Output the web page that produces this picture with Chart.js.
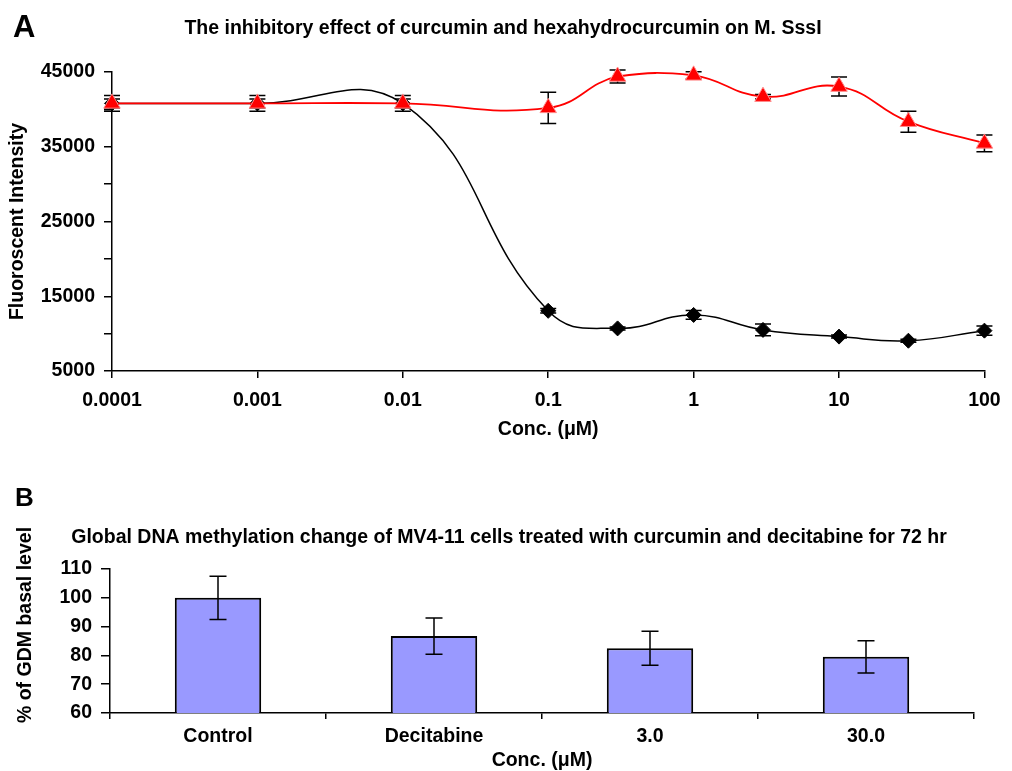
<!DOCTYPE html>
<html>
<head>
<meta charset="utf-8">
<script src="https://cdn.jsdelivr.net/npm/chart.js@4.4.1/dist/chart.umd.min.js"></script>
<style>
  html, body { margin:0; padding:0; background:#fff; overflow:hidden; width:1012px; height:771px; }
  #chartA { position:absolute; left:0; top:0; }
  #chartB { position:absolute; left:0; top:445px; }
  .lbl { position:absolute; font-family:'Liberation Sans', Arial, sans-serif; font-weight:bold; color:#000; line-height:1; white-space:nowrap; }
  #ytB { font-size:19.5px; line-height:1.2; left:25px; top:625px; transform:translate(-50%,-50%) rotate(-90deg); }
</style>
</head>
<body>
<canvas id="chartA" width="1012" height="445"></canvas>
<canvas id="chartB" width="1012" height="332"></canvas>
<div class="lbl" style="left:13px;top:11px;font-size:31px">A</div>
<div class="lbl" style="left:15px;top:484px;font-size:26px">B</div>
<div class="lbl" id="ytB">% of GDM basal level</div>
<script>
// ---------- Panel A data ----------
const concentrations = [0.0001, 0.001, 0.01, 0.1, 0.3, 1, 3, 10, 30, 100];
const hexahydroValues = [40800, 40800, 40800, 40200, 44400, 44550, 41700, 43050, 38350, 35450];
const hexahydroErrors = [1040, 1040, 1040, 2100, 870, 500, 300, 1270, 1400, 1130];
const curcuminValues = [40800, 40800, 40800, 13050, 10700, 12500, 10500, 9600, 9050, 10400];
const curcuminErrors = [600, 600, 600, 300, 200, 580, 800, 200, 200, 630];
const xTickValues = [0.0001, 0.001, 0.01, 0.1, 1, 10, 100];
const xTickLabels = ['0.0001', '0.001', '0.01', '0.1', '1', '10', '100'];
const yLabelledTicksA = [5000, 15000, 25000, 35000, 45000];

// ---------- Panel B data ----------
const gdmCategories = ['Control', 'Decitabine', '3.0', '30.0'];
const gdmValues = [100, 86.7, 82.5, 79.5];
const gdmErrors = [7.5, 6.3, 5.9, 5.6];

const FONT = "'Liberation Sans', Arial, sans-serif";
const fMain = { family: FONT, size: 19.5, weight: 'bold', lineHeight: 1.2 };

function drawErrorBars(chart, opts) {
  const ctx = chart.ctx;
  chart.data.datasets.forEach((ds, i) => {
    if (!ds.errors) return;
    const meta = chart.getDatasetMeta(i);
    const yScale = chart.scales[meta.yAxisID];
    meta.data.forEach((el, j) => {
      const raw = ds.data[j];
      const v = (typeof raw === 'object') ? raw.y : raw;
      const e = ds.errors[j];
      const x = el.x;
      const yTop = yScale.getPixelForValue(v + e);
      const yBot = yScale.getPixelForValue(v - e);
      ctx.save();
      ctx.strokeStyle = '#000';
      ctx.lineWidth = opts.lineWidth;
      ctx.beginPath();
      ctx.moveTo(x, yTop); ctx.lineTo(x, yBot);
      ctx.moveTo(x - opts.cap, yTop); ctx.lineTo(x + opts.cap, yTop);
      ctx.moveTo(x - opts.cap, yBot); ctx.lineTo(x + opts.cap, yBot);
      ctx.stroke();
      ctx.restore();
    });
  });
}
const errorBarPlugin = {
  id: 'errorBars',
  beforeDatasetsDraw(chart, args, opts) { if (opts.phase === 'before') drawErrorBars(chart, opts); },
  afterDatasetsDraw(chart, args, opts) { if (opts.phase === 'after') drawErrorBars(chart, opts); }
};

const axisGrid = (tl) => ({ drawOnChartArea: false, drawTicks: true, tickLength: tl, color: '#000', lineWidth: 1.5 });
const axisBorder = { display: true, color: '#000', width: 1.5 };

// ---------- Chart A ----------
new Chart(document.getElementById('chartA'), {
  type: 'line',
  data: {
    datasets: [
      {
        label: 'hexahydrocurcumin',
        data: concentrations.map((c, i) => ({ x: c, y: hexahydroValues[i] })),
        errors: hexahydroErrors,
        borderColor: '#ff0000', borderWidth: 1.8, tension: 0.45,
        pointStyle: 'triangle', pointRadius: 9.5, pointHoverRadius: 9.5,
        pointBackgroundColor: '#ff0000', pointBorderColor: '#ff8c8c', pointBorderWidth: 1,
        clip: false, order: 0
      },
      {
        label: 'curcumin',
        data: concentrations.map((c, i) => ({ x: c, y: curcuminValues[i] })),
        errors: curcuminErrors,
        borderColor: '#000000', borderWidth: 1.5, tension: 0.45,
        pointStyle: 'rectRot', pointRadius: 7.5, pointHoverRadius: 7.5,
        pointBackgroundColor: '#000000', pointBorderColor: '#000000', pointBorderWidth: 1,
        clip: false, order: 1
      }
    ]
  },
  options: {
    responsive: false, animation: false, devicePixelRatio: 1,
    layout: { padding: { left: 10, right: 16, top: 0, bottom: 0 } },
    plugins: {
      legend: { display: false }, tooltip: { enabled: false },
      title: { display: true, text: 'The inhibitory effect of curcumin and hexahydrocurcumin on M. SssI',
               font: fMain, color: '#000', padding: { top: 17.3, bottom: 31.3 } },
      errorBars: { phase: 'before', cap: 8, lineWidth: 1.5 }
    },
    scales: {
      x: {
        type: 'logarithmic', min: 0.0001, max: 100, position: 'bottom',
        afterBuildTicks: (s) => { s.ticks = xTickValues.map(v => ({ value: v })); },
        afterFit: (s) => { s.height = 74; },
        ticks: { autoSkip: false, maxRotation: 0, padding: 11.3, color: '#000', font: fMain,
                 callback: (v) => { const k = xTickValues.indexOf(v); return k >= 0 ? xTickLabels[k] : ''; } },
        grid: axisGrid(7), border: axisBorder,
        title: { display: true, text: 'Conc. (μM)', font: fMain, color: '#000', padding: { top: 0, bottom: 3.3 } }
      },
      y: {
        min: 5000, max: 45000,
        afterFit: (s) => { s.width = 102; },
        ticks: { stepSize: 5000, padding: 9, color: '#000', font: fMain,
                 callback: (v) => yLabelledTicksA.includes(v) ? String(v) : '' },
        grid: axisGrid(8), border: axisBorder,
        title: { display: true, text: 'Fluoroscent Intensity', font: fMain, color: '#000', padding: { top: -4.1, bottom: 0 } }
      }
    }
  },
  plugins: [errorBarPlugin]
});

// ---------- Chart B ----------
new Chart(document.getElementById('chartB'), {
  type: 'bar',
  data: {
    labels: gdmCategories,
    datasets: [{
      label: 'GDM',
      data: gdmValues, errors: gdmErrors,
      backgroundColor: '#9999ff', borderColor: '#000', borderWidth: 2, borderSkipped: false,
      barPercentage: 0.4, categoryPercentage: 1.0
    }]
  },
  options: {
    responsive: false, animation: false, devicePixelRatio: 1,
    layout: { padding: { left: 44, right: 38, top: 0, bottom: 0 } },
    plugins: {
      legend: { display: false }, tooltip: { enabled: false },
      title: { display: true, text: 'Global DNA methylation change of MV4-11 cells treated with curcumin and decitabine for 72 hr',
               font: fMain, color: '#000', padding: { top: 81.3, bottom: 19.3 } },
      errorBars: { phase: 'after', cap: 8.5, lineWidth: 1.5 }
    },
    scales: {
      x: {
        afterFit: (s) => { s.height = 64; },
        ticks: { padding: 6.3, color: '#000', font: fMain, maxRotation: 0 },
        grid: Object.assign(axisGrid(6), { offset: true }), border: axisBorder,
        title: { display: true, text: 'Conc. (μM)', font: fMain, color: '#000', padding: { top: 0, bottom: 4.3 } }
      },
      y: {
        min: 60, max: 110,
        afterFit: (s) => { s.width = 66; },
        ticks: { stepSize: 10, padding: 9, color: '#000', font: fMain },
        grid: axisGrid(9), border: axisBorder
      }
    }
  },
  plugins: [errorBarPlugin]
});
</script>
</body>
</html>
